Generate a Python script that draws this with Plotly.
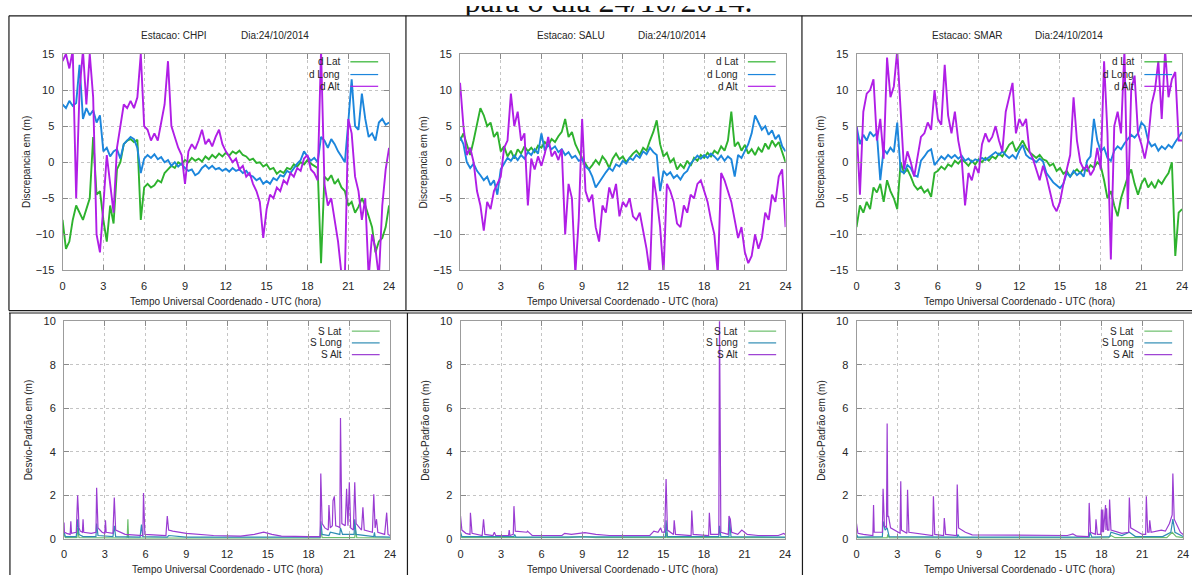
import plotly.graph_objects as go

W, H = 1198, 581
STEP_H = 0.25  # sampling step (hours) of the discrepancy series

PAGE_TITLE = "para o dia 24/10/2014."
STATIONS = ["CHPI", "SALU", "SMAR"]
DAY_LABEL = "Dia:24/10/2014"
X_TITLE = "Tempo Universal Coordenado - UTC (hora)"
TOP_Y_TITLE = "Discrepancia em (m)"
BOT_Y_TITLE = "Desvio-Padrão em (m)"
TOP_LEGEND = ["d Lat", "d Long", "d Alt"]
BOT_LEGEND = ["S Lat", "S Long", "S Alt"]
X_TICKS = [0, 3, 6, 9, 12, 15, 18, 21, 24]
TOP_Y_TICKS = [-15, -10, -5, 0, 5, 10, 15]
BOT_Y_TICKS = [0, 2, 4, 6, 8, 10]

# ---- discrepancies (m), one value every 0.25 h from 0 to 24 h ----
CHPI_DLAT = [-8, -12, -11, -8, -6, -7, -8, -6.5, -5, 3.5, -4.5, -4,
             -8, -11, -6, -8.5, -1, 0, 2.5, 3, 3.2, 2.8, 3.1, -8,
             -3.5, -3, -3.5, -3.2, -2.5, -2.8, -1.5, -1, -0.5, -0.8, 0, -0.3,
             0.3, 0, 0.6, 0.2, 0.5, 0.1, 0.8, 0.4, 1, 0.6, 1.2, 0.8,
             1.3, 0.9, 1.5, 1.2, 1.6, 1.0, 0.8, 0.3, 0.5, -0.1, 0, -0.6,
             -0.3, -1.0, -0.8, -1.6, -1.2, -1.5, -0.8, -1.0, -0.3, -0.6, 0, -0.3,
             0.3, -0.2, -0.5, -0.8, -14, -2, -2.5, -1.8, -3, -2.4, -3.5, -4,
             -6, -5.5, -7, -6.2, -5, -6, -7.5, -9, -12.5, -11, -10.5, -9,
             -6]
CHPI_DLONG = [8, 7.5, 8.5, 7.8, 8.2, 13.5, 6, 7.5, 6.5, 7.2, 5.5, 6.5,
              1.5, 2, 0.8, 1.5, 1.8, 0.5, 2.5, 3, 3.5, 3.2, 2, -1.5,
              0.5, 1, 0.6, 1.1, 0.4, 0.7, 0, 0.3, -0.5, 0, -0.6, -0.2,
              -0.8, -1.2, -1.0, -1.8, -1.5, -0.8, -0.4, -0.9, -0.5, -1.0, -0.8, -1.2,
              -0.9, -1.3, -0.8, -1.2, -1.0, -1.5, -1.2, -1.8, -2.0, -2.5, -2.2, -3.0,
              -2.6, -3.0, -2.2, -2.5, -1.8, -2.0, -1.2, -1.5, -0.8, -0.2, 0.3, 1.5,
              0.8, 0.2, 0.6, 0, 3.5, 3, 2, 3.2, 2.5, 1.5, 0.8, 0,
              5.5, 11.5, 5, 4.5, 9.5, 6, 3.5, 4, 3, 5.5, 6, 5.2,
              5.5]
CHPI_DALT = [14, 15, 13, 15.5, -5, 10, 15.5, 8, 15, 9, -10, -12.5,
             -6, 1, -3, -7, 2, 5, 8, 7.5, 8.5, 7.5, 9, 15,
             5, 4.5, 3, 4, 3, 5.5, 8, 14, 5, 3.5, 2, 1,
             -3, 1.5, 2.5, 1.8, 3, 4.5, 2.5, 3.2, 2.2, 3.5, 4.5, 2.5,
             1.5, 0.8, 0, 0.5, -1, -0.5, -2, -1.5, -3, -4, -5.5, -10.5,
             -6.5, -4.5, -5, -3.5, -4, -2.5, -3, -1.5, -2, -0.8, -1.2, 0.5,
             1, -1, -1.5, -2.5, 15.5, -3, -6, -5, -8, -11, -15.5, -16,
             6, 4, -2, -4, -8, -5, -16, -10, -12, -16, -6, -1,
             2]

SALU_DLAT = [3, 4, 2.5, 1, 3, 5.5, 7.5, 6.5, 5, 5.5, 3.5, 4.2,
             1.5, 2.2, 0.8, 1.6, 0.5, 1.8, 1.2, 2.2, 1.5, 2.0, 1.4, 2.3,
             2.0, 2.8, 2.3, 3.2, 2.8, 3.6, 4.2, 6, 3.5, 4.2, 2.5, 1.5,
             0.5, -0.2, -1, -0.4, 0.3, -0.3, 0.8, 0.2, -0.8, 0.5, 1.2, 0.4,
             0.8, 0, 0.6, 1.2, 1.6, 1.0, 2.0, 1.6, 3.0, 4.2, 5.8, 2.5,
             0.8, 1.3, 0, 0.5, -1.0, -0.3, -0.8, 0.2, -0.5, 0.6, 0.2, 1.0,
             0.6, 1.3, 0.8, 1.6, 1.2, 2.2, 1.6, 3.0, 7, 2.2, 2.8, 1.6,
             2.4, 1.2, 1.8, 1.0, 2.0, 1.4, 2.6, 1.8, 3.0, 2.2, 2.8, 1.5,
             0]
SALU_DLONG = [3.5, 2.5, 0, -0.8, -0.2, -1.2, -1.8, -2.5, -2.0, -3.2, -2.5, -4.5,
              -1.0, -0.2, 0.6, 0.2, 0.9, 0.3, 1.0, 0.5, 1.4, 1.0, 1.8, 1.2,
              4, 1.6, 2.4, 1.8, 2.2, 1.4, 1.8, 1.0, 1.4, 0.6, 0.9, 0.2,
              0.4, -0.6, -1.0, -2.0, -3.5, -2.8, -2.0, -1.4, -0.8, -1.2, -0.3, -0.6,
              0.2, -0.2, 0.6, 0.3, 1.0, 0.6, 1.5, 1.1, 2.0, 1.4, 1.0, -4,
              -1.2, -1.8, -1.4, -2.2, -1.8, -2.4, -1.6, -1.2, -0.2, 0.4, 0.9, 0.5,
              1.0, 0.6, 1.2, 0.8, 0.3, 0.9, 0.2, 0.8, 0.4, -2, 1.0, 0.6,
              1.5, 2.5, 4, 6.5, 5.5, 4.5, 5, 3.8, 4.4, 3.2, 3.8, 2.2,
              1.5]
SALU_DALT = [11, 5, 1, 2, 0, -4, -6, -9.5, -5.5, -6.5, -4, -3,
             -2, 2, 3, 9.5, 5, 7, 3, 4, -6, 0.5, -1, 0.8,
             -0.5, 1.2, 3.5, 0.8, 1.5, 0.3, 1.8, -10, -3, -5, -15.5, -8,
             6, -4, -5.5, -4.5, -9, -11, -6, -7, -3.5, -5, -3, -7.5,
             -5.5, -6.2, -5, -7.5, -8, -7, -9.5, -12, -15.5, -2, -5, -9,
             -15.5, -3, -4, -5.5, -8.5, -9, -6, -7, -4.5, -5, -3, -2.5,
             -4, -5.5, -8, -10, -15.5, -1.5, -2.5, -4, -5.5, -8, -10.5, -9,
             -12.5, -14, -13, -10, -12, -10.5, -7, -8, -4.5, -5.5, -2, -1,
             -9]

SMAR_DLAT = [-9, -6, -7, -5.5, -6.5, -3.5, -4.2, -3, -5.5, -2.5, -4, -5,
             -6.5, 0, -1.5, -1, -2, -3.2, -3.8, -3.4, -4.2, -3.8, -4.8, -1.5,
             -1.2, -0.6, -1.0, -0.3, -0.6, 0.2, -0.2, 0.4, 0, -0.5, 0.2, -0.3,
             0.4, 0, 0.6, 0.2, 0.8, 0.5, 1.2, 0.8, 1.6, 2.4, 2.8, 1.5,
             2.2, 3.0, 2.0, 1.4, 1.0, 0.6, 1.0, 0.4, 0.2, -0.5, -0.2, -1.2,
             -0.8, -1.6, -1.2, -2.0, -1.4, -1.0, -1.5, -0.8, -1.2, -0.4, -0.8, 0,
             -0.5, -2.5, -5, -4, -6, -7.5, -5, -3.5, -2, -1, -3, -4.5,
             -3, -2.2, -3.5, -2.8, -3.6, -2.5, -3.0, -2.2, -1.5, 0, -13, -7,
             -6.5]
SMAR_DLONG = [5, 2.5, 3.8, 3, 4.2, 3.6, 4.0, -2.5, 1.8, 1.2, 2.0, 1.4,
              5.5, -1.2, -1.5, -0.4, -0.8, -1.8, -2.0, 0.2, 0.8, 1.5, 1.8, -0.4,
              0.2, 0.8, 0.4, 1.0, 0.6, 1.0, 0.5, 0.9, 0.2, 0.5, 0, 0.4,
              0.2, 0.6, 0.3, 0.7, 1.0, 1.4, 1.0, 1.5, 1.0, 0.6, 1.0, 0.5,
              1.6, 2.4, 1.0, 0.6, 0.4, 0, 0.5, 0.1, -1.5, -2.2, -2.8, -3.2,
              -3.6, -3.0, -1.5, -2.0, -1.2, -1.8, -1.4, -2.0, 0.2, 0.8, 6, 3,
              1.5, 2.0, 0.6, 0.2, 1.6, 2.2, 1.8, 2.6, 3.2, 3.8, 3.4, 4.0,
              5.5, 5.0, 3.0, 2.2, 2.5, 1.6, 2.2, 1.8, 2.4, 2.0, 2.8, 3.5,
              4.2]
SMAR_DALT = [5, -4.5, 7, 9.5, 10, 11.5, 3, 6, 0.5, 14.5, 9, 10.5,
             15.5, 7, -1, 1.5, 0, -2, 1, 3.5, 4, 5.5, 4.5, 10,
             6, 5.2, 13.5, 6.5, 4, 7, 3, 0.5, -6, -1.5, -2.5, -0.5,
             -1.5, 2.5, 4, 2.8, 3.5, 5, 3, 1.5, 7, 9, 11, 4,
             6, 5, 6, 1.5, 0.5, -1, -2.5, -0.5, -2, -4, -6, -6.8,
             -5.5, -3, -1, 1, 9, 3, 0, -1, -0.5, -1.8, -1, 2,
             -1, 14, 4, -13.5, 5, 7, 4, 15.5, -6.5, 10, 12, 4,
             2.5, 0.5, 3, 8, 10, 14, 6, 15.5, 9, 11.5, 12.5, 3,
             3]

# ---- standard deviations (m): (hour, value) pairs ----
CHPI_SLAT = [(0, 0.2), (0.1, 0.05), (0.95, 0.05), (1.0, 0.5), (1.1, 0.05), (4.65, 0.03), (4.7, 0.9),
             (4.75, 0.03), (18.85, 0.03), (18.9, 0.4), (19.0, 0.05), (21.4, 0.05), (21.45, 0.4),
             (21.55, 0.05), (24.0, 0.03)]
CHPI_SLONG = [(0, 0.3), (0.1, 0.1), (0.9, 0.1), (1.0, 0.9), (1.1, 0.2), (1.4, 0.1), (2.35, 0.1), (2.4, 0.7),
              (2.5, 0.15), (3.6, 0.1), (3.7, 0.6), (3.8, 0.1), (5.6, 0.08), (5.7, 0.65), (5.8, 0.1),
              (7.6, 0.08), (7.7, 0.15), (9.0, 0.08), (14.0, 0.08), (18.85, 0.08), (18.9, 0.8), (19.0, 0.2),
              (19.5, 0.15), (19.6, 0.3), (20.3, 0.2), (20.35, 0.5), (20.5, 0.2), (21.35, 0.2), (21.4, 0.9),
              (21.5, 0.2), (22.8, 0.1), (22.85, 0.3), (22.9, 0.1), (24.0, 0.08)]
CHPI_SALT = [(0, 0.75), (0.03, 0.3), (0.2, 0.25), (0.45, 0.2), (0.5, 0.8), (0.55, 0.25), (0.9, 0.3),
             (1.0, 2.0), (1.05, 1.4), (1.1, 0.5), (1.2, 0.35), (1.35, 0.3), (1.4, 0.9), (1.45, 0.3),
             (2.0, 0.25), (2.35, 0.3), (2.4, 2.35), (2.5, 0.5), (2.8, 0.3), (3.0, 0.25), (3.05, 0.85),
             (3.1, 0.3), (3.6, 0.25), (3.7, 1.9), (3.8, 0.4), (4.5, 0.2), (5.8, 0.15), (5.85, 2.1),
             (5.95, 0.2), (7.5, 0.15), (7.6, 1.05), (7.7, 0.4), (8.0, 0.35), (9.0, 0.25), (11.0, 0.15),
             (13.0, 0.12), (14.0, 0.2), (14.7, 0.3), (15.3, 0.2), (16.0, 0.12), (18.0, 0.1), (18.85, 0.1),
             (18.9, 3.0), (19.0, 0.7), (19.2, 0.5), (19.45, 0.4), (19.5, 1.55), (19.6, 0.5), (19.75, 0.6),
             (19.8, 1.75), (19.9, 1.95), (20.0, 0.6), (20.2, 0.55), (20.3, 0.5), (20.35, 5.55), (20.45, 0.7),
             (20.7, 0.6), (20.8, 2.3), (20.9, 0.6), (21.0, 2.6), (21.1, 0.5), (21.3, 0.4), (21.4, 2.6),
             (21.5, 0.7), (21.9, 0.4), (22.0, 1.45), (22.1, 0.4), (22.7, 0.3), (22.8, 2.05), (22.9, 0.5),
             (23.0, 0.9), (23.1, 0.3), (23.6, 0.2), (23.75, 1.2), (23.85, 0.2), (24.0, 0.15)]

SALU_SLAT = [(0, 0.15), (0.1, 0.05), (8, 0.05), (9, 0.1), (10, 0.05), (15.2, 0.05), (15.25, 0.3),
             (15.3, 0.05), (24, 0.05)]
SALU_SLONG = [(0, 0.3), (0.1, 0.1), (3.95, 0.1), (4.0, 0.2), (4.1, 0.08), (15.15, 0.1), (15.2, 0.85),
              (15.3, 0.1), (19.1, 0.1), (19.15, 0.6), (19.25, 0.1), (19.85, 0.1), (19.9, 0.9),
              (20.0, 0.1), (24.0, 0.08)]
SALU_SALT = [(0, 1.05), (0.1, 0.4), (0.4, 0.25), (0.7, 0.2), (0.73, 1.2), (0.85, 0.25), (1.6, 0.15),
             (1.7, 0.9), (1.8, 0.2), (2.4, 0.15), (2.5, 0.3), (2.6, 0.15), (3.55, 0.15), (3.6, 0.4),
             (3.65, 0.15), (3.9, 0.2), (3.95, 1.5), (4.05, 0.35), (4.9, 0.3), (4.95, 0.35), (5.3, 0.15),
             (7.5, 0.15), (7.7, 0.25), (8.2, 0.2), (9.2, 0.28), (10.0, 0.2), (11.0, 0.15), (14.0, 0.15),
             (14.3, 0.35), (14.6, 0.3), (14.8, 0.5), (14.9, 0.3), (15.1, 0.3), (15.2, 2.75), (15.3, 0.4),
             (15.75, 0.2), (15.8, 0.85), (15.9, 0.2), (17.05, 0.15), (17.1, 1.3), (17.2, 0.2),
             (18.35, 0.15), (18.4, 1.2), (18.5, 0.2), (19.1, 0.2), (19.15, 10.5), (19.25, 0.3),
             (19.8, 0.2), (19.85, 1.05), (19.95, 0.9), (20.05, 0.3), (20.5, 0.2), (20.8, 0.4),
             (21.2, 0.2), (22.0, 0.15), (23.5, 0.15), (23.9, 0.25), (24, 0.2)]

SMAR_SLAT = [(0, 0.1), (0.1, 0.04), (2.25, 0.04), (2.3, 0.2), (2.4, 0.04), (18.5, 0.04), (18.7, 0.15),
             (19, 0.05), (22.8, 0.05), (23.2, 0.3), (23.5, 0.1), (24, 0.05)]
SMAR_SLONG = [(0, 0.2), (0.1, 0.08), (1.9, 0.1), (1.95, 0.8), (2.1, 0.4), (2.25, 0.5), (2.4, 0.1),
              (7.4, 0.08), (7.45, 0.2), (7.55, 0.08), (17.1, 0.08), (17.15, 0.3), (17.3, 0.08),
              (18.6, 0.1), (18.7, 0.3), (19.5, 0.15), (20.05, 0.3), (20.5, 0.1), (22.5, 0.1),
              (23.1, 0.3), (23.25, 0.9), (23.4, 0.3), (24, 0.1)]
SMAR_SALT = [(0, 0.7), (0.1, 0.25), (0.5, 0.2), (1.2, 0.15), (1.25, 1.55), (1.3, 0.3), (1.9, 0.3),
             (1.95, 2.3), (2.05, 0.6), (2.2, 0.5), (2.25, 5.3), (2.3, 1.0), (2.35, 1.05), (2.5, 0.5),
             (3.0, 0.3), (3.2, 0.25), (3.25, 2.65), (3.3, 0.4), (3.7, 0.25), (3.75, 2.25), (3.85, 0.3),
             (5.6, 0.15), (5.65, 1.95), (5.75, 0.2), (6.4, 0.15), (6.45, 0.95), (6.55, 0.2),
             (7.35, 0.15), (7.4, 2.5), (7.5, 0.5), (8.0, 0.3), (8.5, 0.18), (15.5, 0.15), (15.9, 0.22),
             (16.2, 0.12), (17.05, 0.1), (17.1, 1.65), (17.2, 0.3), (17.55, 0.2), (17.6, 0.9),
             (17.7, 0.2), (17.95, 0.2), (18.0, 1.35), (18.05, 0.3), (18.1, 1.35), (18.15, 0.3),
             (18.3, 1.55), (18.33, 0.4), (18.38, 1.4), (18.45, 0.4), (18.55, 0.4), (18.6, 1.8),
             (18.7, 0.4), (19.5, 0.25), (20.0, 0.3), (20.05, 1.9), (20.15, 0.5), (21.0, 0.2),
             (21.25, 0.2), (21.3, 1.95), (21.4, 0.3), (21.5, 0.3), (21.55, 0.85), (21.65, 0.3),
             (22.4, 0.4), (22.7, 0.35), (23.0, 0.7), (23.2, 1.1), (23.25, 3.0), (23.35, 0.9),
             (23.8, 0.3), (24, 0.2)]

TOP_SERIES = [[CHPI_DLAT, CHPI_DLONG, CHPI_DALT],
              [SALU_DLAT, SALU_DLONG, SALU_DALT],
              [SMAR_DLAT, SMAR_DLONG, SMAR_DALT]]
BOT_SERIES = [[CHPI_SLAT, CHPI_SLONG, CHPI_SALT],
              [SALU_SLAT, SALU_SLONG, SALU_SALT],
              [SMAR_SLAT, SMAR_SLONG, SMAR_SALT]]

TOP_COLORS = ["#2eb22e", "#1c86dc", "#b01ee6"]
BOT_COLORS = ["#6cbf6c", "#2f8db4", "#9a3cd2"]

# ---- layout geometry (pixels) ----
TOP_X = [(60, 389), (460.5, 788.5), (860, 1188)]
BOT_X = [(61.5, 390), (461, 788), (860, 1189)]
TOP_Y = (49, 270)
BOT_Y = (322, 544)

FONT = "Liberation Sans, Arial, sans-serif"
TXT = "#262626"


def fx(p):
    return p / W


def fy(p):
    return 1 - p / H


fig = go.Figure()
layout = dict(width=W, height=H, margin=dict(l=0, r=0, t=0, b=0),
              paper_bgcolor="white", plot_bgcolor="white", showlegend=False,
              font=dict(family=FONT, size=10, color=TXT))
annotations = []
shapes = []


def axis_style(rng, ticks, dom):
    return dict(domain=dom, range=rng, tickmode="array", tickvals=ticks,
                showline=True, linecolor="#9c9c9c", linewidth=1, mirror="ticks",
                ticks="inside", ticklen=5, tickwidth=1, tickcolor="#8a8a8a",
                showgrid=True, gridcolor="#c4c4c4", griddash="dot", gridwidth=1,
                zeroline=False, ticklabelstandoff=5,
                tickfont=dict(family=FONT, size=11, color=TXT), fixedrange=True)


idx = 0
for row in range(2):
    for col in range(3):
        idx += 1
        sfx = "" if idx == 1 else str(idx)
        if row == 0:
            x0, x1 = TOP_X[col]
            y0, y1 = TOP_Y
            yr, yt = [-15, 15], TOP_Y_TICKS
        else:
            x0, x1 = BOT_X[col]
            y0, y1 = BOT_Y
            yr, yt = [0, 10], BOT_Y_TICKS
        xa = axis_style([0, 24], X_TICKS, [fx(x0), fx(x1)])
        xa["anchor"] = "y" + sfx
        ya = axis_style(yr, yt, [fy(y1), fy(y0)])
        ya["anchor"] = "x" + sfx
        layout["xaxis" + sfx] = xa
        layout["yaxis" + sfx] = ya

        if row == 0:
            for vals, color in zip(TOP_SERIES[col], TOP_COLORS):
                t = [i * STEP_H for i in range(len(vals))]
                fig.add_trace(go.Scatter(x=t, y=vals, mode="lines", xaxis="x" + sfx, yaxis="y" + sfx,
                                         line=dict(color=color, width=1.9), hoverinfo="skip"))
            labels, colors = TOP_LEGEND, TOP_COLORS
            # station header
            annotations.append(dict(x=fx(x0 + 112), y=fy(30), xref="paper", yref="paper",
                                    text="Estacao: " + STATIONS[col], showarrow=False,
                                    font=dict(size=10, color=TXT), xanchor="center", yanchor="middle"))
            annotations.append(dict(x=fx(x0 + 214), y=fy(30), xref="paper", yref="paper",
                                    text=DAY_LABEL, showarrow=False,
                                    font=dict(size=10, color=TXT), xanchor="center", yanchor="middle"))
            ytitle, ytx, xty = TOP_Y_TITLE, x0 - 37, 302
            leg_rows = [57, 70, 82]
        else:
            for pairs, color in zip(BOT_SERIES[col], BOT_COLORS):
                t = [p[0] for p in pairs]
                v = [p[1] for p in pairs]
                fig.add_trace(go.Scatter(x=t, y=v, mode="lines", xaxis="x" + sfx, yaxis="y" + sfx,
                                         line=dict(color=color, width=1.2), hoverinfo="skip"))
            labels, colors = BOT_LEGEND, BOT_COLORS
            ytitle, ytx, xty = BOT_Y_TITLE, x0 - 36, 575
            leg_rows = [332, 344, 356]

        # axis titles
        annotations.append(dict(x=fx(ytx), y=fy((y0 + y1) / 2), xref="paper", yref="paper",
                                text=ytitle, textangle=-90, showarrow=False,
                                font=dict(size=10, color=TXT), xanchor="center", yanchor="middle"))
        annotations.append(dict(x=fx((x0 + x1) / 2), y=fy(xty), xref="paper", yref="paper",
                                text=X_TITLE, showarrow=False,
                                font=dict(size=10, color=TXT), xanchor="center", yanchor="middle"))
        # gnuplot-style key: label then sample line
        for lab, c, ry in zip(labels, colors, leg_rows):
            annotations.append(dict(x=fx(x0 + 282), y=fy(ry), xref="paper", yref="paper",
                                    text=lab, showarrow=False, font=dict(size=10, color=TXT),
                                    xanchor="right", yanchor="middle"))
            shapes.append(dict(type="line", xref="paper", yref="paper",
                               x0=fx(x0 + 290), x1=fx(x0 + 318), y0=fy(ry), y1=fy(ry),
                               line=dict(color=c, width=1.2)))

# page caption above the table, clipped at the table's top rule
layout["xaxis7"] = dict(domain=[0, 1], range=[0, W], visible=False, fixedrange=True, anchor="y7")
layout["yaxis7"] = dict(domain=[fy(10), 1], range=[10, 0], visible=False, fixedrange=True, anchor="x7")
fig.add_trace(go.Scatter(x=[610], y=[-2.5], mode="text", text=[PAGE_TITLE], textposition="middle center",
                         textfont=dict(family="Liberation Serif, Times New Roman, serif", size=32, color="#111"),
                         xaxis="x7", yaxis="y7", cliponaxis=True, hoverinfo="skip"))

# document table rules
BLACK = "#1a1a1a"
table_lines = [
    (6, 10, W, 10), (6, 311, W, 311), (6, 313.5, W, 313.5),
    (6, 10, 6, 311), (7, 313.5, 7, H),
    (406, 10, 406, 311), (407.5, 313.5, 407.5, H),
    (805, 10, 805, 311), (805.5, 313.5, 805.5, H),
]
for (a, b, c, d) in table_lines:
    shapes.append(dict(type="line", xref="paper", yref="paper", x0=fx(a), y0=fy(b), x1=fx(c), y1=fy(d),
                       line=dict(color=BLACK, width=1.2), layer="above"))

layout["annotations"] = annotations
layout["shapes"] = shapes
fig.update_layout(**layout)
fig.write_html("out.html", config={"displayModeBar": False},
               post_script="document.body.style.margin='0';document.body.style.overflow='hidden';")
